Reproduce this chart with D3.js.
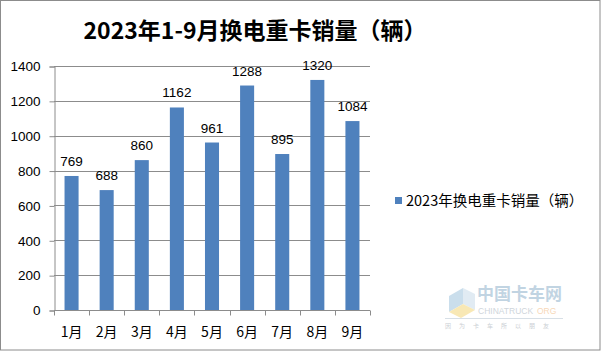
<!DOCTYPE html>
<html>
<head>
<meta charset="utf-8">
<script src="https://cdn.jsdelivr.net/npm/d3@7"></script>
<style>
  body { margin: 0; background: #fff; }
  svg { display: block; font-family: Calibri, "Noto Sans CJK SC", "DejaVu Sans", sans-serif; }
</style>
</head>
<body>
<div id="chart"></div>
<script>
// chart values
const months = ["1月", "2月", "3月", "4月", "5月", "6月", "7月", "8月", "9月"]
const sales = [769, 688, 860, 1162, 961, 1288, 895, 1320, 1084]
const yTicks = [0, 200, 400, 600, 800, 1000, 1200, 1400]
const title = "2023年1-9月换电重卡销量（辆）"
const seriesName = "2023年换电重卡销量（辆）"

const width = 601, height = 351
const margin = { left: 54, right: 231, top: 66, bottom: 41 }
const barColor = "#4f81bd"
const cjk = '"Noto Sans CJK SC", sans-serif'
const num = '"Liberation Sans", "Noto Sans CJK SC", sans-serif'

const svg = d3.select("#chart").append("svg")
    .attr("width", width)
    .attr("height", height)

// outer frame
svg.append("rect")
    .attr("x", 0.5).attr("y", 0.5)
    .attr("width", width - 1.5).attr("height", height - 1.5)
    .attr("fill", "#fff").attr("stroke", "#8c8c8c")

svg.append("text")
    .attr("x", 255).attr("y", 39)
    .attr("text-anchor", "middle")
    .style("font-family", cjk)
    .style("font-size", "23px")
    .style("font-weight", "bold")
    .attr("fill", "#000")
    .text(title)

const x = d3.scaleBand()
    .domain(months)
    .range([margin.left, width - margin.right])
    .paddingInner(0.6)
    .paddingOuter(0.3)

const y = d3.scaleLinear()
    .domain([0, 1400])
    .range([height - margin.bottom, margin.top])

// grid
svg.append("g")
    .selectAll("line")
    .data(yTicks.slice(1))
    .join("line")
    .attr("x1", margin.left).attr("x2", width - margin.right)
    .attr("y1", d => Math.round(y(d)) + 0.5).attr("y2", d => Math.round(y(d)) + 0.5)
    .attr("stroke", "#8c8c8c")

// y axis
const yAxis = svg.append("g")
    .attr("transform", `translate(${margin.left + 0.5},0.5)`)
    .call(d3.axisLeft(y).tickValues(yTicks).tickSize(5).tickPadding(9).tickFormat(d3.format("d")))
yAxis.select(".domain").attr("stroke", "#8c8c8c")
yAxis.selectAll(".tick line").attr("stroke", "#8c8c8c")
yAxis.selectAll("text")
    .style("font-family", num)
    .style("font-size", "13.5px")
    .attr("fill", "#000")

// x axis with ticks on band boundaries
const xAxisG = svg.append("g")
    .attr("transform", `translate(0,${Math.round(y(0)) + 0.5})`)
xAxisG.append("line")
    .attr("x1", margin.left).attr("x2", width - margin.right)
    .attr("stroke", "#8c8c8c")
xAxisG.selectAll(".tk")
    .data(d3.range(months.length + 1))
    .join("line")
    .attr("class", "tk")
    .attr("x1", i => Math.round(margin.left + i * x.step()) + 0.5)
    .attr("x2", i => Math.round(margin.left + i * x.step()) + 0.5)
    .attr("y1", 0).attr("y2", 5)
    .attr("stroke", "#8c8c8c")
xAxisG.selectAll(".lbl")
    .data(months)
    .join("text")
    .attr("class", "lbl")
    .attr("x", d => x(d) + x.bandwidth() / 2)
    .attr("y", 26)
    .attr("text-anchor", "middle")
    .style("font-family", cjk)
    .style("font-size", "14px")
    .attr("fill", "#000")
    .text(d => d)

// bars
svg.append("g")
    .selectAll("rect")
    .data(sales)
    .join("rect")
    .attr("x", (d, i) => x(months[i]))
    .attr("y", d => y(d))
    .attr("width", x.bandwidth())
    .attr("height", d => y(0) - y(d))
    .attr("fill", barColor)

// data labels
svg.append("g")
    .selectAll("text")
    .data(sales)
    .join("text")
    .attr("x", (d, i) => x(months[i]) + x.bandwidth() / 2)
    .attr("y", d => y(d) - 10)
    .attr("text-anchor", "middle")
    .style("font-family", num)
    .style("font-size", "13.5px")
    .attr("fill", "#000")
    .text(d => d)

// legend
const lg = svg.append("g").attr("transform", "translate(395,197)")
lg.append("rect").attr("width", 7).attr("height", 7).attr("fill", barColor)
lg.append("text")
    .attr("x", 11).attr("y", 8.5)
    .style("font-family", cjk)
    .style("font-size", "14.5px")
    .attr("fill", "#000")
    .text(seriesName)

// watermark, faint
const wm = svg.append("g").attr("transform", "translate(445,280)").attr("opacity", 0.55)
wm.append("path").attr("d", "M4,16 L18,8 L18,24 L4,32 Z").attr("fill", "#9fc4de")
wm.append("path").attr("d", "M18,8 L30,14 L30,30 L18,24 Z").attr("fill", "#c9dcea")
wm.append("path").attr("d", "M4,32 L18,24 L30,30 L16,38 Z").attr("fill", "#f3d77a")
wm.append("text").attr("x", 32).attr("y", 20)
    .style("font-family", cjk).style("font-size", "17px").style("font-weight", "bold")
    .attr("fill", "#8fb1cc").text("中国卡车网")
wm.append("text").attr("x", 33).attr("y", 34)
    .style("font-family", num).style("font-size", "8.5px")
    .attr("fill", "#a9b4be").text("CHINATRUCK")
wm.append("text").attr("x", 92).attr("y", 34)
    .style("font-family", num).style("font-size", "8.5px")
    .attr("fill", "#f2b880").text("ORG")
wm.append("line").attr("x1", 0).attr("x2", 118).attr("y1", 38.5).attr("y2", 38.5)
    .attr("stroke", "#b8c6d2")
wm.append("text").attr("x", 0).attr("y", 48)
    .style("font-family", cjk).style("font-size", "6px").style("letter-spacing", "8px")
    .attr("fill", "#a0a8b0").text("因为卡车所以朋友")
</script>
</body>
</html>
